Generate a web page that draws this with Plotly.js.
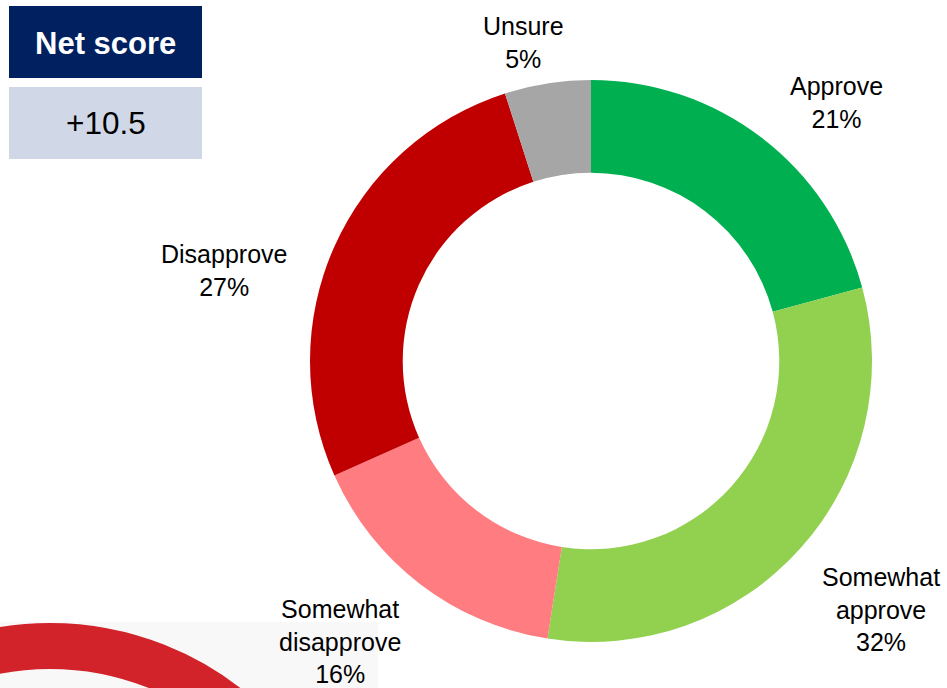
<!DOCTYPE html>
<html>
<head>
<meta charset="utf-8">
<script src="https://cdn.plot.ly/plotly-3.0.1.min.js"></script>
<style>html,body{margin:0;padding:0;background:#fff;}#chart{width:947px;height:688px;}</style>
</head>
<body>
<div id="chart"></div>
<script>
// Data
var categories = ["Approve", "Somewhat approve", "Somewhat disapprove", "Disapprove", "Unsure"];
var values = [21, 32, 16, 27, 5];
var labelText = ["Approve<br>21%", "Somewhat<br>approve<br>32%", "Somewhat<br>disapprove<br>16%", "Disapprove<br>27%", "Unsure<br>5%"];
var colors = ["#00B050", "#92D050", "#FF7C80", "#C00000", "#A6A6A6"];
var netScoreLabel = "Net score";
var netScoreValue = "+10.5";

var W = 947, H = 688;
function px(x) { return x / W; }
function py(y) { return 1 - y / H; }

// label anchor positions (pixel centers)
var labelPos = [[836, 102], [881, 609], [340, 641], [224, 271], [523, 42]];

var trace = {
  type: "pie",
  labels: categories,
  values: values,
  marker: { colors: colors, line: { width: 0 } },
  hole: 0.67,
  sort: false,
  direction: "clockwise",
  rotation: 0,
  textinfo: "none",
  hoverinfo: "label+value",
  domain: { x: [px(310), px(872)], y: [py(642), py(80)] },
  showlegend: false
};

var annotations = labelText.map(function (t, i) {
  return {
    xref: "paper", yref: "paper",
    x: px(labelPos[i][0]), y: py(labelPos[i][1]),
    xanchor: "center", yanchor: "middle",
    text: t, showarrow: false, align: "center",
    font: { family: "Liberation Sans, Arial, sans-serif", size: 25, color: "#000" }
  };
});
annotations.push({
  xref: "paper", yref: "paper", x: px(105.5), y: py(43), xanchor: "center", yanchor: "middle",
  text: "<b>" + netScoreLabel + "</b>", showarrow: false,
  font: { family: "Liberation Sans, Arial, sans-serif", size: 31, color: "#fff" }
});
annotations.push({
  xref: "paper", yref: "paper", x: px(105.5), y: py(123), xanchor: "center", yanchor: "middle",
  text: netScoreValue, showarrow: false,
  font: { family: "Liberation Sans, Arial, sans-serif", size: 31.5, color: "#000" }
});

var shapes = [
  { type: "rect", xref: "paper", yref: "paper", x0: px(9), x1: px(202), y0: py(78), y1: py(6), fillcolor: "#002060", line: { width: 0 }, layer: "below" },
  { type: "rect", xref: "paper", yref: "paper", x0: px(9), x1: px(202), y0: py(159), y1: py(87), fillcolor: "#D0D8E8", line: { width: 0 }, layer: "below" },
  { type: "rect", xref: "paper", yref: "paper", x0: px(0), x1: px(378), y0: py(688), y1: py(622), fillcolor: "#F8F8F8", line: { width: 0 }, layer: "below" },
  { type: "circle", xref: "paper", yref: "paper", x0: px(50 - 288), x1: px(50 + 288), y0: py(934 + 288), y1: py(934 - 288), fillcolor: "rgba(0,0,0,0)", line: { width: 46, color: "#D2232A" }, layer: "below" }
];

var layout = {
  width: W, height: H,
  margin: { l: 0, r: 0, t: 0, b: 0 },
  paper_bgcolor: "#fff",
  plot_bgcolor: "rgba(0,0,0,0)",
  xaxis: { visible: false, range: [0, 1], fixedrange: true },
  yaxis: { visible: false, range: [0, 1], fixedrange: true },
  annotations: annotations,
  shapes: shapes,
  font: { family: "Liberation Sans, Arial, sans-serif" }
};

Plotly.newPlot("chart", [trace], layout, { displayModeBar: false, staticPlot: true });
</script>
</body>
</html>
